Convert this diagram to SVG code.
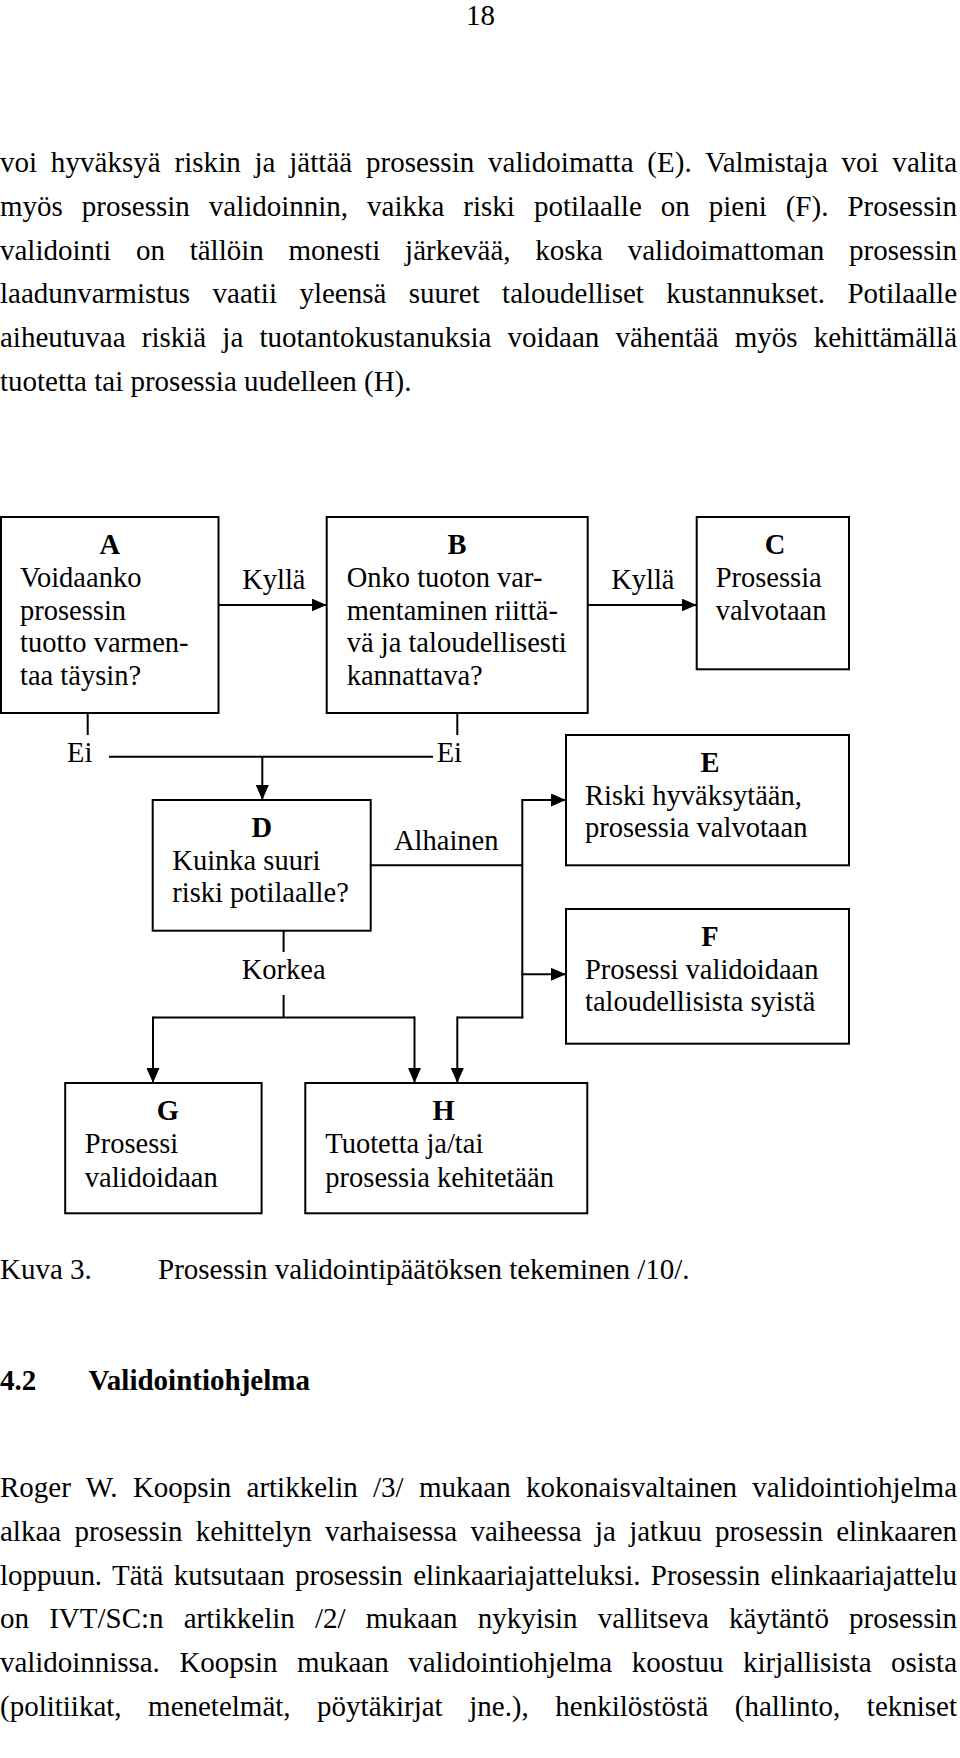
<svg xmlns="http://www.w3.org/2000/svg" width="960" height="1758" viewBox="0 0 960 1758">
<style>
  text { font-family: "Liberation Serif", "Times New Roman", serif; fill: #000; }
  .body { font-size: 29px; }
  .bt { font-size: 28.5px; }
  .ttl { font-size: 28.5px; font-weight: bold; text-anchor: middle; }
  .lbl { font-size: 28.5px; }
  .box { fill: #fff; stroke: #000; stroke-width: 2; }
  .ln { fill: none; stroke: #000; stroke-width: 2; }
  .arr { marker-end: url(#ah); }
  .hd { font-size: 29px; font-weight: bold; }
</style>
<defs>
  <marker id="ah" markerUnits="userSpaceOnUse" markerWidth="15" markerHeight="13" refX="15" refY="6.5" orient="auto">
    <path d="M0,0 L15,6.5 L0,13 z" fill="#000"/>
  </marker>
</defs>
<rect width="960" height="1758" fill="#fff"/>

<text class="body" x="480.5" y="25" text-anchor="middle">18</text>

<g id="paragraph1">
  <text class="body" x="0" y="172" word-spacing="6.37" textLength="957" lengthAdjust="spacing">voi hyväksyä riskin ja jättää prosessin validoimatta (E). Valmistaja voi valita</text>
  <text class="body" x="0" y="215.8" word-spacing="11.73" textLength="957" lengthAdjust="spacing">myös prosessin validoinnin, vaikka riski potilaalle on pieni (F). Prosessin</text>
  <text class="body" x="0" y="259.6" word-spacing="17.49" textLength="957" lengthAdjust="spacing">validointi on tällöin monesti järkevää, koska validoimattoman prosessin</text>
  <text class="body" x="0" y="303.4" word-spacing="15.18" textLength="957" lengthAdjust="spacing">laadunvarmistus vaatii yleensä suuret taloudelliset kustannukset. Potilaalle</text>
  <text class="body" x="0" y="347.2" word-spacing="8.95" textLength="957" lengthAdjust="spacing">aiheutuvaa riskiä ja tuotantokustanuksia voidaan vähentää myös kehittämällä</text>
  <text class="body" x="0" y="391">tuotetta tai prosessia uudelleen (H).</text>
</g>

<g id="connectors">
  <line class="ln arr" x1="219" y1="605" x2="326.7" y2="605"/>
  <line class="ln arr" x1="588" y1="605" x2="696.7" y2="605"/>
  <line class="ln" x1="87.7" y1="713" x2="87.7" y2="735"/>
  <line class="ln" x1="457.3" y1="713" x2="457.3" y2="735"/>
  <line class="ln" x1="109" y1="756.7" x2="433" y2="756.7"/>
  <line class="ln arr" x1="262.3" y1="756.7" x2="262.3" y2="800"/>
  <polyline class="ln" points="370.7,865.3 522.3,865.3"/>
  <line class="ln" x1="522.3" y1="799" x2="522.3" y2="1018.4"/>
  <line class="ln arr" x1="521.3" y1="800" x2="566" y2="800"/>
  <line class="ln arr" x1="521.3" y1="974.3" x2="566" y2="974.3"/>
  <polyline class="ln" points="523.3,1017.4 457.3,1017.4"/>
  <line class="ln arr" x1="457.3" y1="1016.4" x2="457.3" y2="1083"/>
  <line class="ln" x1="283.6" y1="931" x2="283.6" y2="952"/>
  <line class="ln" x1="283.6" y1="995" x2="283.6" y2="1017.4"/>
  <polyline class="ln" points="153,1017.4 414.5,1017.4"/>
  <line class="ln arr" x1="153" y1="1016.4" x2="153" y2="1083"/>
  <line class="ln arr" x1="414.5" y1="1016.4" x2="414.5" y2="1083"/>
  <text class="lbl" x="273.8" y="589" text-anchor="middle">Kyllä</text>
  <text class="lbl" x="642.8" y="589" text-anchor="middle">Kyllä</text>
  <text class="lbl" x="67" y="762">Ei</text>
  <text class="lbl" x="436.7" y="762">Ei</text>
  <text class="lbl" x="394" y="850">Alhainen</text>
  <text class="lbl" x="283.6" y="979" text-anchor="middle">Korkea</text>
</g>

<g id="node-A">
  <rect class="box" x="1" y="517" width="217.5" height="196"/>
  <text class="ttl" x="109.7" y="554">A</text>
  <text class="bt" x="20" y="587.3">Voidaanko</text>
  <text class="bt" x="20" y="619.7">prosessin</text>
  <text class="bt" x="20" y="652">tuotto varmen-</text>
  <text class="bt" x="20" y="684.5">taa täysin?</text>
</g>
<g id="node-B">
  <rect class="box" x="326.7" y="517" width="261" height="196"/>
  <text class="ttl" x="457" y="554">B</text>
  <text class="bt" x="346.7" y="587.3">Onko tuoton var-</text>
  <text class="bt" x="346.7" y="619.7">mentaminen riittä-</text>
  <text class="bt" x="346.7" y="652">vä ja taloudellisesti</text>
  <text class="bt" x="346.7" y="684.5">kannattava?</text>
</g>
<g id="node-C">
  <rect class="box" x="696.7" y="517" width="152.3" height="152.3"/>
  <text class="ttl" x="775" y="554">C</text>
  <text class="bt" x="715.7" y="587.3">Prosessia</text>
  <text class="bt" x="715.7" y="619.7">valvotaan</text>
</g>
<g id="node-D">
  <rect class="box" x="152.7" y="800" width="218" height="130.7"/>
  <text class="ttl" x="261.7" y="837">D</text>
  <text class="bt" x="172.3" y="869.5">Kuinka suuri</text>
  <text class="bt" x="172.3" y="902">riski potilaalle?</text>
</g>
<g id="node-E">
  <rect class="box" x="566" y="735" width="283" height="130.3"/>
  <text class="ttl" x="710" y="772">E</text>
  <text class="bt" x="585" y="804.5">Riski hyväksytään,</text>
  <text class="bt" x="585" y="837">prosessia valvotaan</text>
</g>
<g id="node-F">
  <rect class="box" x="566" y="909" width="283" height="134.7"/>
  <text class="ttl" x="710" y="946">F</text>
  <text class="bt" x="585" y="978.5">Prosessi validoidaan</text>
  <text class="bt" x="585" y="1011">taloudellisista syistä</text>
</g>
<g id="node-G">
  <rect class="box" x="65.2" y="1083" width="196.4" height="130.3"/>
  <text class="ttl" x="167.8" y="1120">G</text>
  <text class="bt" x="84.8" y="1153.3">Prosessi</text>
  <text class="bt" x="84.8" y="1187.3">validoidaan</text>
</g>
<g id="node-H">
  <rect class="box" x="305.3" y="1083" width="282" height="130.3"/>
  <text class="ttl" x="443.5" y="1120">H</text>
  <text class="bt" x="325.3" y="1153.3">Tuotetta ja/tai</text>
  <text class="bt" x="325.3" y="1187.3">prosessia kehitetään</text>
</g>

<text class="body" x="0" y="1279">Kuva 3.</text>
<text class="body" x="158" y="1279">Prosessin validointipäätöksen tekeminen /10/.</text>

<text class="hd" x="0" y="1390">4.2</text>
<text class="hd" x="88.6" y="1390">Validointiohjelma</text>

<g id="paragraph2">
  <text class="body" x="0" y="1497" word-spacing="8.02" textLength="957" lengthAdjust="spacing">Roger W. Koopsin artikkelin /3/ mukaan kokonaisvaltainen validointiohjelma</text>
  <text class="body" x="0" y="1540.8" word-spacing="6.07" textLength="957" lengthAdjust="spacing">alkaa prosessin kehittelyn varhaisessa vaiheessa ja jatkuu prosessin elinkaaren</text>
  <text class="body" x="0" y="1584.6" word-spacing="3.15" textLength="957" lengthAdjust="spacing">loppuun. Tätä kutsutaan prosessin elinkaariajatteluksi. Prosessin elinkaariajattelu</text>
  <text class="body" x="0" y="1628.4" word-spacing="12.89" textLength="957" lengthAdjust="spacing">on IVT/SC:n artikkelin /2/ mukaan nykyisin vallitseva käytäntö prosessin</text>
  <text class="body" x="0" y="1672.2" word-spacing="12.43" textLength="957" lengthAdjust="spacing">validoinnissa. Koopsin mukaan validointiohjelma koostuu kirjallisista osista</text>
  <text class="body" x="0" y="1716" word-spacing="19.32" textLength="957" lengthAdjust="spacing">(politiikat, menetelmät, pöytäkirjat jne.), henkilöstöstä (hallinto, tekniset</text>
</g>
</svg>
